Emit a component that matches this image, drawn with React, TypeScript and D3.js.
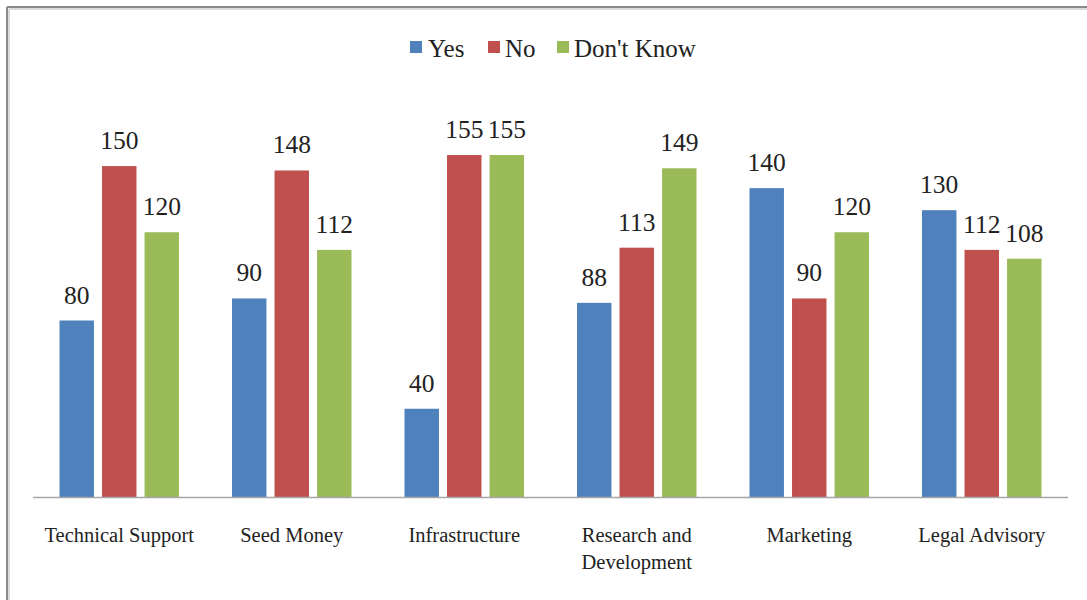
import React from "react";
import * as d3 from "d3";

const categories = ["Technical Support", "Seed Money", "Infrastructure", "Research and Development", "Marketing", "Legal Advisory"];
const categoryLines: string[][] = [["Technical Support"], ["Seed Money"], ["Infrastructure"], ["Research and", "Development"], ["Marketing"], ["Legal Advisory"]];
const seriesNames = ["Yes", "No", "Don't Know"];
const yesValues = [80, 90, 40, 88, 140, 130];
const noValues = [150, 148, 155, 113, 90, 112];
const dontKnowValues = [120, 112, 155, 149, 120, 108];
const seriesColors = ["#4F81BD", "#C0504D", "#9BBB59"];

const W = 1087;
const H = 600;
const FONT = "Liberation Serif, Tinos, DejaVu Serif, serif";

export default function App() {
  const seriesValues = [yesValues, noValues, dontKnowValues];
  const x0 = d3.scaleBand<string>().domain(categories).range([33, 1068]);
  const x1 = d3.scaleBand<string>().domain(seriesNames).range([-59.75, 59.75]).paddingInner(0.19);
  const y = d3.scaleLinear().domain([0, 160]).range([497, 144]);

  const legendItems = [
    { name: "Yes", sx: 410, tx: 428 },
    { name: "No", sx: 488, tx: 505 },
    { name: "Don't Know", sx: 557, tx: 574 },
  ];

  const txt = { fontFamily: FONT, fill: "#222" } as React.CSSProperties;

  return (
    <div style={{ position: "fixed", left: 0, top: 0, width: W, height: H, background: "#fff" }}>
      <svg width={W} height={H} style={{ display: "block" }}>
        <rect x={0} y={0} width={W} height={H} fill="#fff" />
        {/* frame */}
        <line x1={7} y1={7} x2={W} y2={7} stroke="#8a8a8a" strokeWidth={2} />
        <line x1={7} y1={7} x2={7} y2={H} stroke="#8a8a8a" strokeWidth={2} />
        <line x1={9} y1={9} x2={W} y2={9} stroke="#cfcfcf" strokeWidth={1.5} />
        <line x1={9} y1={9} x2={9} y2={H} stroke="#cfcfcf" strokeWidth={1.5} />

        {/* legend */}
        {legendItems.map((l, i) => (
          <g key={l.name}>
            <rect x={l.sx} y={41} width={12} height={12} fill={seriesColors[i]} />
            <text x={l.tx} y={57} style={{ ...txt, fontSize: 25 }}>{l.name}</text>
          </g>
        ))}

        {/* bars */}
        {categories.map((c, ci) => {
          const cx = (x0(c) as number) + x0.bandwidth() / 2;
          return (
            <g key={c}>
              {seriesNames.map((s, si) => {
                const v = seriesValues[si][ci];
                const bx = cx + (x1(s) as number);
                const by = y(v);
                return (
                  <g key={s}>
                    <rect x={bx} y={by} width={x1.bandwidth()} height={y(0) - by} fill={seriesColors[si]} />
                    <text x={bx + x1.bandwidth() / 2} y={by - 17} textAnchor="middle" style={{ ...txt, fontSize: 25.5 }}>{v}</text>
                  </g>
                );
              })}
              {categoryLines[ci].map((line, li) => (
                <text key={li} x={cx} y={542 + li * 27} textAnchor="middle" style={{ ...txt, fontSize: 20.5 }}>{line}</text>
              ))}
            </g>
          );
        })}

        {/* axis */}
        <line x1={x0.range()[0]} y1={y(0) + 0.5} x2={x0.range()[1]} y2={y(0) + 0.5} stroke="#a6a6a6" strokeWidth={1.5} />
      </svg>
    </div>
  );
}
